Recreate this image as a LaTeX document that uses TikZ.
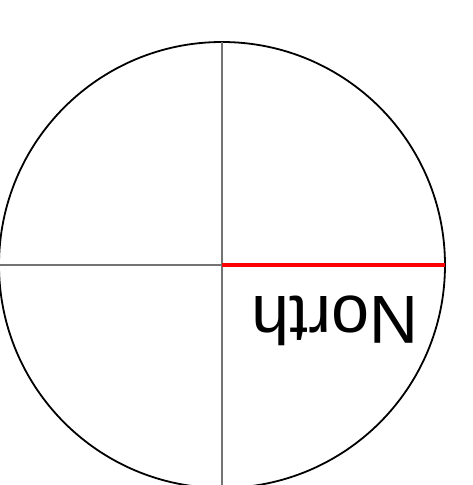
\documentclass[tikz,border=0pt]{standalone}
\usepackage{fontspec}
\setmainfont{Liberation Sans}
\tikzset{
  rim/.style={draw=black, line width=1.8pt},
  axisline/.style={draw=black!55, line width=1.3pt},
  northline/.style={draw=red, line width=3.8pt},
  lbl/.style={font=\fontsize{68}{68}\selectfont, inner sep=0pt, rotate=180, anchor=base}
}
\begin{document}
\begin{tikzpicture}[x=1pt,y=1pt]
\useasboundingbox (0,0) rectangle (473,485);
\coordinate (c) at (222,220);
\coordinate (top) at (222,443);
\coordinate (bot) at (222,0);
\coordinate (left) at (0,220);
\coordinate (right) at (445,220);
\draw[rim] (c) circle[radius=223];
\draw[axisline] (top) -- (bot);
\draw[axisline] (left) -- (c);
\draw[northline] (c) -- (right);
\node[lbl] (north) at (335,188) {North};
\end{tikzpicture}
\end{document}
